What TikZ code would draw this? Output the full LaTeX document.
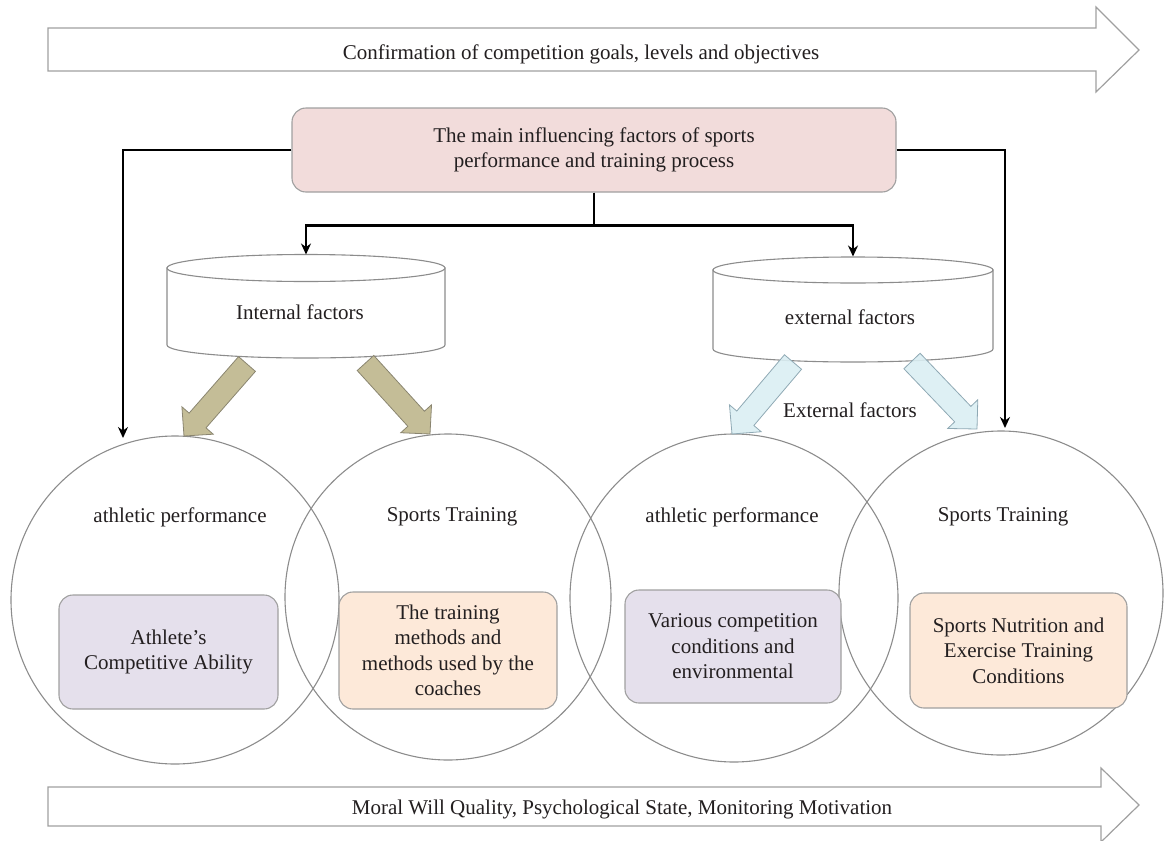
\documentclass[tikz,border=0pt]{standalone}
\usepackage{fontspec}
\setmainfont{Liberation Serif}
\usetikzlibrary{arrows.meta,calc}
\definecolor{pinkbox}{HTML}{F2DCDB}
\definecolor{lavbox}{HTML}{E5E0EC}
\definecolor{peachbox}{HTML}{FDE9D9}
\definecolor{olivefill}{HTML}{C4BD97}
\definecolor{olivedraw}{HTML}{8A8570}
\definecolor{lbluefill}{HTML}{DAEEF3}
\definecolor{lbluedraw}{HTML}{8FA9B4}
\definecolor{txt}{HTML}{231F20}
\definecolor{edge}{HTML}{8C8C8C}
\definecolor{boxedge}{HTML}{A0A0A0}

\newcommand{\blockarr}[3]{%
  \coordinate (nk) at ($(#2)!10.3pt!(#1)$);
  \path[#3] ($(#1)!5.6pt!90:(#2)$) -- ($(nk)!5.6pt!90:(#2)$) -- ($(nk)!10.4pt!90:(#2)$) -- (#2)
    -- ($(nk)!10.4pt!-90:(#2)$) -- ($(nk)!5.6pt!-90:(#2)$) -- ($(#1)!5.6pt!-90:(#2)$) -- cycle;}

\begin{document}
\begin{tikzpicture}[x=0.5pt,y=-0.5pt,
  font=\fontsize{10.5}{12.75}\selectfont, text=txt,
  conn/.style={line width=1.25pt, -{Stealth[length=5.5pt,width=5pt]}},
  ring/.style={circle, draw=edge, line width=0.55pt, minimum size=#1, inner sep=0pt},
  bigarrow/.style={draw=boxedge, fill=white, line width=0.6pt},
  cyl/.style={draw=edge, fill=white, line width=0.55pt},
  inbox/.style={rounded corners=7pt, draw=boxedge, line width=0.55pt, align=center, inner sep=2pt},
  olivearrow/.style={fill=olivefill, draw=olivedraw, line width=0.4pt},
  bluearrow/.style={fill=lbluefill, draw=lbluedraw, line width=0.4pt, fill opacity=0.9}]
\useasboundingbox (0,0) rectangle (1164,841);

% big horizontal arrows
\draw[bigarrow] (48,28) -- (1096,28) -- (1096,7) -- (1139,50) -- (1096,92) -- (1096,71) -- (48,71) -- cycle;
\node (goal) at (581,54) {Confirmation of competition goals, levels and objectives};
\draw[bigarrow] (48,787) -- (1101,787) -- (1101,768) -- (1139,805) -- (1101,842) -- (1101,826) -- (48,826) -- cycle;
\node (moral) at (622,809) {Moral Will Quality, Psychological State, Monitoring Motivation};

% circles
\node[ring=164pt] (c1) at (175,600) {};
\node[ring=163pt] (c2) at (448,597) {};
\node[ring=164pt] (c3) at (734,598) {};
\node[ring=162pt] (c4) at (1001,593) {};
\node (l1) at (180,517) {athletic performance};
\node (l2) at (452,517) {Sports Training};
\node (l3) at (732,517) {athletic performance};
\node (l4) at (1003,517) {Sports Training};

% inner boxes
\node[inbox, fill=lavbox, minimum width=109.5pt, minimum height=57pt] (b1) at (168.5,652) {Athlete's\\Competitive Ability};
\node[inbox, fill=peachbox, minimum width=109pt, minimum height=58.5pt] (b2) at (448,650.5) {The training\\methods and\\methods used by the\\coaches};
\node[inbox, fill=lavbox, minimum width=108pt, minimum height=56.5pt] (b3) at (733,646.5) {Various competition\\conditions and\\environmental};
\node[inbox, fill=peachbox, minimum width=108.5pt, minimum height=57.5pt] (b4) at (1018.5,650.5) {Sports Nutrition and\\Exercise Training\\Conditions};

% main box
\node[rounded corners=7pt, draw=boxedge, fill=pinkbox, line width=0.55pt, align=center,
  minimum width=302pt, minimum height=42pt] (main) at (594,150)
  {The main influencing factors of sports\\performance and training process};

% cylinders
\filldraw[cyl] (167,268) -- (167,345) arc[start angle=180,end angle=360,x radius=69.5pt,y radius=6.5pt] -- (445,268) -- cycle;
\filldraw[cyl] (306,268) ellipse[x radius=69.5pt,y radius=6.75pt];
\node (intf) at (300,312) {Internal factors};
\filldraw[cyl] (713,270) -- (713,349) arc[start angle=180,end angle=360,x radius=70pt,y radius=6.5pt] -- (993,270) -- cycle;
\filldraw[cyl] (853,270) ellipse[x radius=70pt,y radius=6.5pt];
\node (extf) at (850,317) {external factors};
\node (extlab) at (850,410) {External factors};

% block arrows
\coordinate (aL1s) at (247,364); \coordinate (aL1e) at (184,436);
\coordinate (aL2s) at (365.5,363); \coordinate (aL2e) at (430,434);
\coordinate (aR1s) at (793,362); \coordinate (aR1e) at (732,434);
\coordinate (aR2s) at (912,361); \coordinate (aR2e) at (977,429);
\blockarr{aL1s}{aL1e}{olivearrow}
\blockarr{aL2s}{aL2e}{olivearrow}
\blockarr{aR1s}{aR1e}{bluearrow}
\blockarr{aR2s}{aR2e}{bluearrow}

% connectors
\coordinate (cylLtop) at (306,254.5);
\coordinate (cylRtop) at (853,256.5);
\coordinate (c1in) at (123,438);
\coordinate (c4in) at (1005,428);
\draw[conn] (main.south) -- ++(0,33) -| (cylLtop);
\draw[conn] (main.south) -- ++(0,33) -| (cylRtop);
\draw[conn] (main.west) -| (c1in);
\draw[conn] (main.east) -| (c4in);
\end{tikzpicture}
\end{document}
